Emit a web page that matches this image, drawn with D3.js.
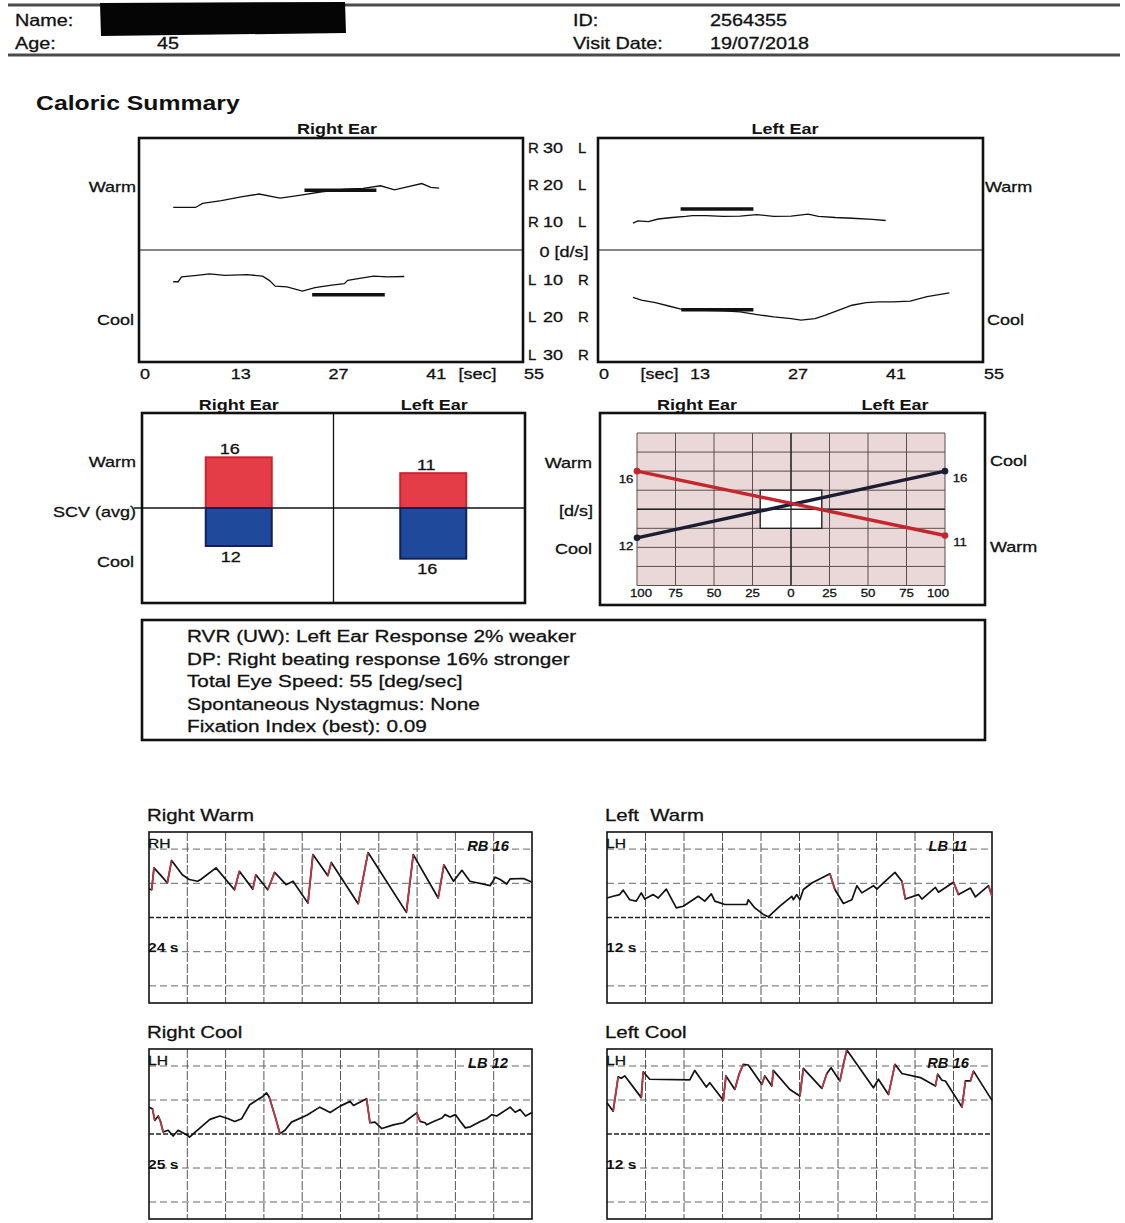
<!DOCTYPE html>
<html><head><meta charset="utf-8">
<script src="https://cdn.jsdelivr.net/npm/d3@7"></script>
<style>body{margin:0;background:#fff}svg{display:block;font-family:"Liberation Sans",Arial,sans-serif}</style>
</head><body>
<script>
// ---------------- DATA ----------------
const headerLeft = [["Name:", ""], ["Age:", "45"]];
const headerRight = [["ID:", "2564355"], ["Visit Date:", "19/07/2018"]];
const reportTitle = "Caloric Summary";

const earCats = ["Right Ear", "Left Ear"];
const calTimeTicks = [0, 13, 27, 41, 55];
const calValueTicks = [30, 20, 10, 0, -10, -20, -30];

// slow phase velocity traces [sec, deg/s]
const rightWarmSPV = [[4.9,11.4],[8.1,11.4],[9.1,12.5],[11.8,13.2],[14.8,14.3],[17.2,15.0],[20.2,13.9],[23.2,14.7],[26.2,15.6],[29.6,16.3],[32.1,16.5],[34.6,17.2],[36.6,16.1],[38.1,16.8],[40.5,17.8],[41.8,16.8],[43.0,16.6]];
const rightCoolSPV = [[4.9,-8.5],[5.6,-8.5],[6.1,-7.2],[8.3,-6.8],[10.1,-6.4],[12.3,-6.8],[15.5,-6.6],[17.7,-7.0],[18.7,-8.2],[19.5,-9.7],[21.2,-9.9],[23.4,-11.0],[25.2,-10.1],[27.6,-9.4],[29.4,-9.0],[29.9,-8.1],[31.6,-7.6],[33.6,-7.0],[35.6,-7.2],[38.0,-7.1]];
const leftWarmSPV = [[5.0,7.2],[5.7,7.8],[7.2,7.6],[8.6,8.3],[10.6,8.7],[12.5,9.0],[13.5,9.2],[15.4,9.2],[17.9,9.0],[20.3,9.1],[22.7,9.5],[25.1,9.0],[27.6,9.1],[30.0,9.6],[31.5,9.0],[33.9,8.7],[36.3,8.5],[39.2,8.2],[41.1,7.9]];
const leftCoolSPV = [[5.0,-12.7],[6.2,-13.4],[8.2,-14.1],[10.1,-15.0],[12.0,-15.9],[14.0,-16.1],[17.9,-16.3],[20.3,-16.6],[22.7,-17.3],[25.1,-17.9],[27.6,-18.4],[29.0,-18.8],[31.0,-18.4],[32.4,-17.5],[34.4,-16.1],[36.3,-14.8],[38.3,-14.1],[40.2,-13.9],[42.1,-13.9],[44.6,-13.7],[47.0,-12.5],[50.2,-11.5]];
// averaging windows [start, end] sec
const rightWarmWin = [23.7, 34.0];
const rightCoolWin = [24.8, 35.2];
const leftWarmWin = [11.8, 22.2];
const leftCoolWin = [11.9, 22.2];

// SCV averages per ear
const scvWarm = [16, 11];
const scvCool = [12, 16];

const bfTicks = [-100, -75, -50, -25, 0, 25, 50, 75, 100];

const statsLines = [
  "RVR (UW): Left Ear Response 2% weaker",
  "DP: Right beating response 16% stronger",
  "Total Eye Speed: 55 [deg/sec]",
  "Spontaneous Nystagmus: None",
  "Fixation Index (best): 0.09"
];

// eye position traces [sec, deg]
const rwTrace = [[0.00,8.3],[0.07,8.1],[0.13,14.5],[0.35,11.8],[0.48,10.1],[0.59,16.7],[0.87,12.5],[1.05,11.1],[1.27,10.6],[1.35,11.1],[1.75,14.5],[2.23,8.1],[2.36,13.5],[2.71,8.3],[2.79,12.5],[3.10,8.1],[3.28,13.2],[3.58,9.6],[3.76,10.6],[4.15,4.2],[4.28,18.4],[4.67,12.2],[4.76,16.1],[5.46,4.0],[5.72,19.0],[6.72,1.5],[6.90,18.4],[7.55,5.7],[7.70,15.4],[7.95,10.6],[8.17,13.8],[8.38,10.6],[8.91,9.3],[9.04,11.8],[9.17,11.1],[9.34,9.8],[9.43,11.3],[9.78,11.4],[10.0,10.3]];
const lwTrace = [[0.00,5.7],[0.16,6.2],[0.33,6.7],[0.42,8.0],[0.59,5.2],[0.76,4.8],[0.89,7.2],[0.98,5.4],[1.20,6.7],[1.33,5.7],[1.54,8.3],[1.80,2.8],[1.98,3.3],[2.37,6.2],[2.54,4.8],[2.71,6.9],[2.80,4.8],[3.06,3.8],[3.63,3.8],[3.67,5.2],[3.84,2.8],[4.06,0.9],[4.19,0.2],[4.49,3.3],[4.80,6.2],[4.84,5.2],[4.93,6.7],[5.01,5.2],[5.10,8.2],[5.32,10.1],[5.79,12.8],[5.92,8.2],[6.14,4.1],[6.36,5.2],[6.49,9.3],[6.62,7.2],[6.92,9.3],[7.01,8.3],[7.18,10.1],[7.48,13.2],[7.66,10.6],[7.75,5.4],[8.09,6.7],[8.18,5.4],[8.53,8.8],[8.61,7.4],[9.00,10.3],[9.13,6.7],[9.44,8.6],[9.57,6.0],[9.91,9.3],[10.0,6.2]];
const rcTrace = [[0.00,7.9],[0.09,7.4],[0.15,4.0],[0.24,5.3],[0.30,3.7],[0.37,0.6],[0.50,1.1],[0.63,-0.6],[0.76,1.1],[0.93,0.1],[1.06,-0.9],[1.19,0.4],[1.59,4.3],[1.85,5.3],[2.07,4.5],[2.24,3.7],[2.42,4.5],[2.63,8.6],[2.81,9.9],[2.94,10.8],[3.07,12.1],[3.14,10.8],[3.29,5.3],[3.42,0.1],[3.55,1.1],[3.72,3.5],[4.12,5.5],[4.46,7.9],[4.73,6.3],[4.99,8.2],[5.25,9.6],[5.34,8.4],[5.68,10.4],[5.77,3.3],[5.90,3.5],[6.08,1.6],[6.38,2.7],[6.64,3.3],[6.99,6.2],[7.08,3.7],[7.21,3.3],[7.25,2.7],[7.43,3.7],[7.65,4.7],[7.73,5.7],[7.86,5.0],[8.00,5.7],[8.13,3.7],[8.26,1.8],[8.39,2.1],[8.65,3.7],[8.82,4.5],[8.95,5.7],[9.08,5.3],[9.43,7.9],[9.56,6.4],[9.69,7.2],[9.83,5.3],[10.0,6.3]];
const lcTrace = [[0.00,9.2],[0.16,6.7],[0.29,16.8],[0.37,16.4],[0.46,17.1],[0.89,10.7],[0.94,18.3],[1.11,16.1],[2.15,15.9],[2.28,18.7],[2.58,13.8],[2.67,15.1],[3.02,9.9],[3.09,17.1],[3.32,13.1],[3.43,17.6],[3.54,20.5],[3.67,20.3],[4.02,14.6],[4.10,17.1],[4.28,14.1],[4.32,18.7],[4.75,13.1],[5.01,11.2],[5.10,19.3],[5.58,13.4],[5.71,17.8],[5.82,19.5],[6.05,15.6],[6.14,20.5],[6.23,24.7],[6.92,13.6],[7.05,16.1],[7.31,11.6],[7.48,20.5],[7.66,17.8],[8.14,16.6],[8.53,14.1],[8.59,17.6],[8.70,15.8],[8.79,15.6],[9.22,7.9],[9.31,15.6],[9.44,15.6],[9.52,18.5],[10.0,9.9]];
const traceTitles = ["Right Warm", "Left\u00a0 Warm", "Right Cool", "Left Cool"];
const traceChannels = ["RH", "LH", "LH", "LH"];
const traceBeats = ["RB 16", "LB 11", "LB 12", "RB 16"];
const traceDurations = ["24 s", "12 s", "25 s", "12 s"];

// ---------------- DRAWING ----------------
const W = 1125, H = 1223, SX = 1.2;
const INK = "#111";
const svg = d3.select("body").append("svg").attr("width", W).attr("height", H);

function txt(g, x, y, s, o = {}) {
  const t = g.append("text").attr("x", x).attr("y", y)
    .attr("font-size", o.size || 15).attr("text-anchor", o.anchor || "start")
    .attr("font-weight", o.weight || "normal").attr("font-style", o.style || "normal")
    .attr("fill", o.fill || INK).attr("dominant-baseline", "central")
    .attr("stroke", o.weight === "bold" ? null : INK).attr("stroke-width", o.weight === "bold" ? null : 0.3)
    .style("white-space", "pre").text(s);
  const w = t.node().getComputedTextLength();
  if (w > 0) t.attr("textLength", w * (o.sx || SX)).attr("lengthAdjust", "spacingAndGlyphs");
  return t;
}
function rect(g, x0, y0, x1, y1, sw, fill) {
  return g.append("rect").attr("x", x0).attr("y", y0).attr("width", x1 - x0).attr("height", y1 - y0)
    .attr("fill", fill || "none").attr("stroke", INK).attr("stroke-width", sw);
}
function hline(g, x0, x1, y, sw, col, dash) {
  return g.append("line").attr("x1", x0).attr("x2", x1).attr("y1", y).attr("y2", y)
    .attr("stroke", col || INK).attr("stroke-width", sw).attr("stroke-dasharray", dash || null);
}
function vline(g, x, y0, y1, sw, col, dash) {
  return g.append("line").attr("x1", x).attr("x2", x).attr("y1", y0).attr("y2", y1)
    .attr("stroke", col || INK).attr("stroke-width", sw).attr("stroke-dasharray", dash || null);
}

// ---- header ----
const hdr = svg.append("g");
hline(hdr, 8, 1120, 5, 3, "#4a4a4a");
hline(hdr, 8, 1120, 55, 3, "#4a4a4a");
headerLeft.forEach((d, i) => {
  txt(hdr, 15, 20 + i * 23, d[0], {size: 16.5});
  if (d[1]) txt(hdr, 157, 20 + i * 23, d[1], {size: 16.5});
});
hdr.append("path").attr("d", "M100,3 L345,2 L346,33 L101,36 Z").attr("fill", "#050505");
headerRight.forEach((d, i) => {
  txt(hdr, 573, 20 + i * 23, d[0], {size: 16.5});
  txt(hdr, 710, 20 + i * 23, d[1], {size: 16.5});
});
txt(svg, 36, 103, reportTitle, {size: 19.5, weight: "bold", sx: 1.27});

// ---- caloric SPV panels ----
const calY = d3.scaleLinear().domain([-30, 30]).range([362, 138]);
const calPanels = [
  {x0: 139, x1: 523, title: earCats[0], titleX: 337, warm: rightWarmSPV, cool: rightCoolSPV,
   wWin: rightWarmWin, cWin: rightCoolWin, wAvg: scvWarm[0], cAvg: scvCool[0], secT: 48.5, side: "left"},
  {x0: 598, x1: 983, title: earCats[1], titleX: 785, warm: leftWarmSPV, cool: leftCoolSPV,
   wWin: leftWarmWin, cWin: leftCoolWin, wAvg: scvWarm[1], cAvg: scvCool[1], secT: 8.8, side: "right"}
];
calPanels.forEach(p => {
  const g = svg.append("g");
  const x = d3.scaleLinear().domain([0, 55]).range([p.x0, p.x1]);
  const line = d3.line().x(d => x(d[0])).y(d => calY(d[1]));
  hline(g, p.x0, p.x1, calY(0), 1.2);
  g.append("path").attr("d", line(p.warm)).attr("fill", "none").attr("stroke", INK).attr("stroke-width", 1.3);
  g.append("path").attr("d", line(p.cool)).attr("fill", "none").attr("stroke", INK).attr("stroke-width", 1.3);
  hline(g, x(p.wWin[0]), x(p.wWin[1]), calY(p.wAvg), 3.5);
  hline(g, x(p.cWin[0]), x(p.cWin[1]), calY(-p.cAvg), 3.5);
  rect(g, p.x0, calY(30), p.x1, calY(-30), 2.6);
  txt(g, p.titleX, 128, p.title, {size: 15, weight: "bold", anchor: "middle"});
  calTimeTicks.forEach(t => txt(g, x(t) + 1, 373, String(t), {size: 15}));
  txt(g, x(p.secT), 373, "[sec]", {size: 15, anchor: "middle"});
  if (p.side === "left") {
    txt(g, p.x0 - 3, 186, "Warm", {size: 15, anchor: "end"});
    txt(g, p.x0 - 5, 319, "Cool", {size: 15, anchor: "end"});
  } else {
    txt(g, p.x1 + 2, 186, "Warm", {size: 15});
    txt(g, p.x1 + 4, 319, "Cool", {size: 15});
  }
});
// shared value axis labels
const axG = svg.append("g");
calValueTicks.forEach(v => {
  if (v === 0) { txt(axG, 564, calY(0) + 1, "0 [d/s]", {size: 15, anchor: "middle"}); return; }
  const y = calY(v) + (v > 0 ? 9 : -8);
  txt(axG, 528, y, v > 0 ? "R" : "L", {size: 15, sx: 1.0});
  txt(axG, 553, y, String(Math.abs(v)), {size: 15, anchor: "middle"});
  txt(axG, 578, y, v > 0 ? "L" : "R", {size: 15, sx: 1.0});
});

// ---- SCV bar chart ----
const bg = svg.append("g");
const bx = d3.scaleBand().domain(earCats).range([142, 525]);
const by = d3.scaleLinear().domain([-30, 30]).range([603, 413]);
const barW = 66;
hline(bg, 134, 525, by(0), 1.3);
vline(bg, bx(earCats[1]), by(30), by(-30), 1.3);
earCats.forEach((c, i) => {
  const cx = bx(c) + bx.bandwidth() / 2 + (i === 1 ? 4 : 1);
  bg.append("rect").attr("x", cx - barW / 2).attr("y", by(scvWarm[i])).attr("width", barW)
    .attr("height", by(0) - by(scvWarm[i])).attr("fill", "#e43d48").attr("stroke", "#cf2231").attr("stroke-width", 2);
  bg.append("rect").attr("x", cx - barW / 2).attr("y", by(0)).attr("width", barW)
    .attr("height", by(-scvCool[i]) - by(0)).attr("fill", "#1f4a9c").attr("stroke", "#141f58").attr("stroke-width", 2);
  txt(bg, cx - 9 + (i === 1 ? 2 : 0), by(scvWarm[i]) - 9, String(scvWarm[i]), {size: 15, anchor: "middle"});
  txt(bg, cx - 8 + (i === 1 ? 2 : 0), by(-scvCool[i]) + 10, String(scvCool[i]), {size: 15, anchor: "middle"});
  txt(bg, cx + (i === 1 ? 1 : 0), 404, c, {size: 15, weight: "bold", anchor: "middle"});
});
rect(bg, 142, 413, 525, 603, 2.6);
txt(bg, 136, 461, "Warm", {size: 15, anchor: "end"});
txt(bg, 136, 511, "SCV (avg)", {size: 15, anchor: "end"});
txt(bg, 134, 561, "Cool", {size: 15, anchor: "end"});

// ---- butterfly chart ----
const fg = svg.append("g");
const xBF = d3.scaleLinear().domain([-100, 100]).range([637, 945]);
const yBF = d3.scaleLinear().domain([-32, 32]).range([585.5, 433]);
fg.append("rect").attr("x", xBF(-100)).attr("y", yBF(32)).attr("width", xBF(100) - xBF(-100))
  .attr("height", yBF(-32) - yBF(32)).attr("fill", "#e9d8d7");
const yTicksBF = d3.range(-32, 33, 8);
yTicksBF.forEach(v => hline(fg, xBF(-100), xBF(100), yBF(v), 1, "#5a4f4f"));
bfTicks.forEach(v => vline(fg, xBF(v), yBF(32), yBF(-32), 1, "#5a4f4f"));
fg.append("rect").attr("x", xBF(-20)).attr("y", yBF(8)).attr("width", xBF(20) - xBF(-20))
  .attr("height", yBF(-8) - yBF(8)).attr("fill", "#fff");
hline(fg, xBF(-100), xBF(100), yBF(0), 1.3, "#222");
vline(fg, xBF(0), yBF(32), yBF(-32), 1.3, "#222");
fg.append("rect").attr("x", xBF(-20)).attr("y", yBF(8)).attr("width", xBF(20) - xBF(-20))
  .attr("height", yBF(-8) - yBF(8)).attr("fill", "none").attr("stroke", "#222").attr("stroke-width", 1.4);
const warmLine = [[-100, scvWarm[0]], [100, -scvWarm[1]]];
const coolLine = [[-100, -scvCool[0]], [100, scvCool[1]]];
const bfLine = d3.line().x(d => xBF(d[0])).y(d => yBF(d[1]));
[[coolLine, "#1b1d33"], [warmLine, "#c3262d"]].forEach(([pts, col]) => {
  fg.append("path").attr("d", bfLine(pts)).attr("stroke", col).attr("stroke-width", 3.4).attr("fill", "none");
  pts.forEach(p => fg.append("circle").attr("cx", xBF(p[0])).attr("cy", yBF(p[1])).attr("r", 3.3).attr("fill", col));
});
[[warmLine[0], scvWarm[0]], [coolLine[0], scvCool[0]]].forEach(([p, v]) =>
  txt(fg, xBF(p[0]) - 11, yBF(p[1]) + 8, String(v), {size: 11, anchor: "middle"}));
[[warmLine[1], scvWarm[1]], [coolLine[1], scvCool[1]]].forEach(([p, v]) =>
  txt(fg, xBF(p[0]) + 15, yBF(p[1]) + 7, String(v), {size: 11, anchor: "middle"}));
bfTicks.forEach(v => txt(fg, Math.max(641, Math.min(938, xBF(v))), 593, String(Math.abs(v)), {size: 11, anchor: "middle"}));
rect(fg, 600, 413, 985, 605, 2.6);
txt(fg, 697, 404, earCats[0], {size: 15, weight: "bold", anchor: "middle"});
txt(fg, 895, 404, earCats[1], {size: 15, weight: "bold", anchor: "middle"});
txt(fg, 592, 462, "Warm", {size: 15, anchor: "end"});
txt(fg, 593, 510, "[d/s]", {size: 15, anchor: "end"});
txt(fg, 592, 548, "Cool", {size: 15, anchor: "end"});
txt(fg, 990, 460, "Cool", {size: 15});
txt(fg, 990, 546, "Warm", {size: 15});

// ---- stats box ----
const sg = svg.append("g");
rect(sg, 142, 620, 985, 740, 2.6);
statsLines.forEach((s, i) => txt(sg, 187, 636 + i * 22.6, s, {size: 17.3}));

// ---- nystagmus traces ----
const traceData = [rwTrace, lwTrace, rcTrace, lcTrace];
const traceBoxes = [
  {x0: 149, x1: 532, y0: 832, y1: 1003},
  {x0: 607, x1: 992, y0: 832, y1: 1003},
  {x0: 149, x1: 532, y0: 1049, y1: 1219},
  {x0: 607, x1: 992, y0: 1049, y1: 1219}
];
traceData.forEach((data, i) => {
  const b = traceBoxes[i];
  const g = svg.append("g");
  const x = d3.scaleLinear().domain([0, 10]).range([b.x0, b.x1]);
  const y = d3.scaleLinear().domain([-25, 25]).range([b.y1, b.y0]);
  g.append("rect").attr("x", b.x0).attr("y", b.y0).attr("width", b.x1 - b.x0).attr("height", b.y1 - b.y0).attr("fill", "#fff");
  d3.range(1, 10).forEach(t => vline(g, x(t), b.y0, b.y1, 1, "#555", "9,2"));
  [20, 10, -10, -20].forEach(v => hline(g, b.x0, b.x1, y(v), 1, "#666", "7,4"));
  hline(g, b.x0, b.x1, y(0), 1.3, "#222", "5,2");
  rect(g, b.x0, b.y0, b.x1, b.y1, 1.6);
  const line = d3.line().x(d => x(d[0])).y(d => y(d[1]));
  g.append("path").attr("d", line(data)).attr("fill", "none").attr("stroke", INK)
    .attr("stroke-width", 1.7).attr("stroke-linejoin", "round");
  const dir = traceBeats[i].startsWith("RB") ? 1 : -1;
  for (let k = 1; k < data.length; k++) {
    const slope = (data[k][1] - data[k - 1][1]) / (data[k][0] - data[k - 1][0]);
    if (slope * dir > 25) {
      g.append("path").attr("d", line([data[k - 1], data[k]])).attr("stroke", "#c23646")
        .attr("stroke-width", 1.7).attr("fill", "none");
    }
  }
  txt(g, b.x0 - 2, b.y0 - 17, traceTitles[i], {size: 17});
  txt(g, b.x0 - 1, b.y0 + 11, traceChannels[i], {size: 13});
  txt(g, b.x1 - 44, b.y0 + 14, traceBeats[i], {size: 14, weight: "bold", style: "italic", anchor: "middle", sx: 1.05});
  txt(g, b.x0 - 1, b.y0 + 115, traceDurations[i], {size: 13, weight: "bold"});
});
</script></body></html>
